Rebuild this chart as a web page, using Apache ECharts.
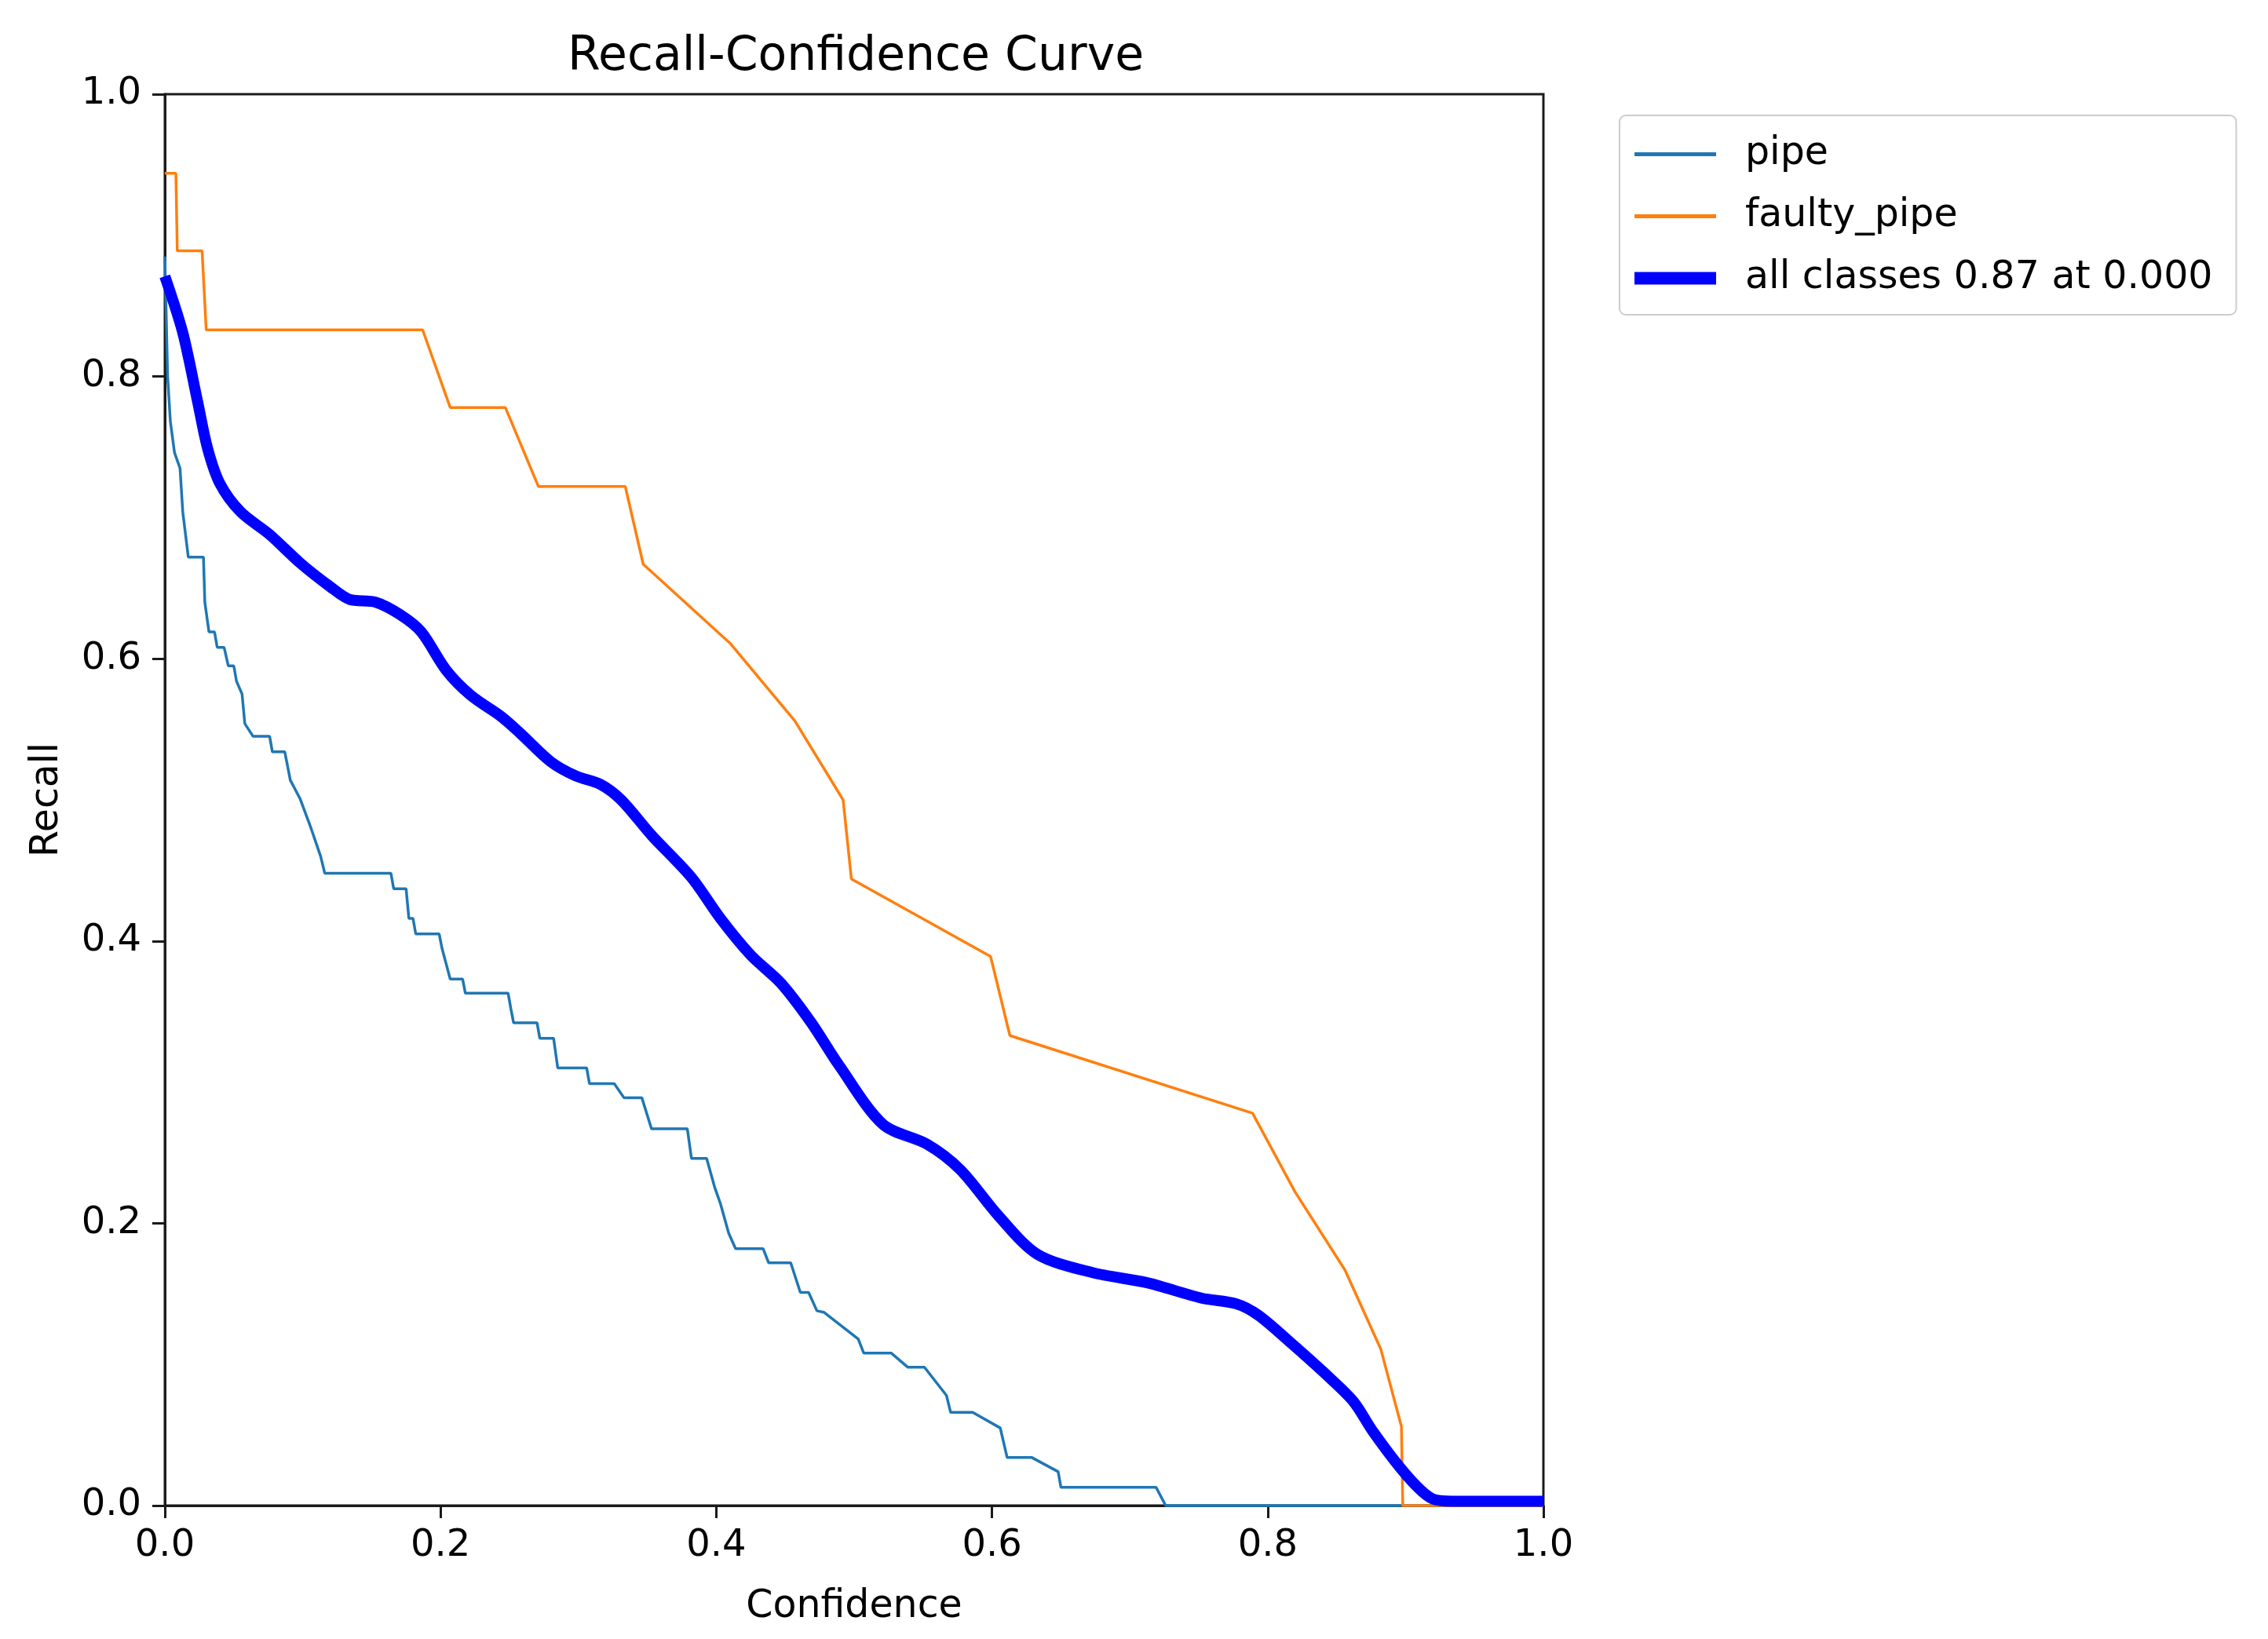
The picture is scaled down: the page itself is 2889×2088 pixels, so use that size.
<!DOCTYPE html>
<html>
<head>
<meta charset="utf-8">
<script src="https://cdn.jsdelivr.net/npm/echarts@6/dist/echarts.min.js"></script>
<style>
html,body{margin:0;padding:0;background:#fff;}
#chart{width:2889px;height:2088px;}
</style>
</head>
<body>
<div id="chart"></div>
<script>
// ---- data (confidence, recall) ----
const seriesNames = ['pipe', 'faulty_pipe', 'all classes 0.87 at 0.000'];
const axisTicks = [0.0, 0.2, 0.4, 0.6, 0.8, 1.0];

const pipeData = [
  [0.000,0.885],[0.002,0.800],[0.004,0.768],[0.007,0.746],[0.011,0.735],[0.013,0.704],
  [0.017,0.672],[0.028,0.672],[0.029,0.640],[0.032,0.619],[0.036,0.619],[0.038,0.608],
  [0.043,0.608],[0.046,0.595],[0.050,0.595],[0.052,0.584],[0.056,0.575],[0.058,0.554],
  [0.064,0.545],[0.076,0.545],[0.078,0.534],[0.087,0.534],[0.091,0.514],[0.098,0.501],
  [0.106,0.480],[0.113,0.460],[0.116,0.448],[0.164,0.448],[0.166,0.437],[0.175,0.437],
  [0.177,0.416],[0.180,0.416],[0.182,0.405],[0.199,0.405],[0.201,0.395],[0.207,0.373],
  [0.216,0.373],[0.218,0.363],[0.249,0.363],[0.251,0.352],[0.253,0.342],[0.270,0.342],
  [0.272,0.331],[0.282,0.331],[0.285,0.310],[0.306,0.310],[0.308,0.299],[0.326,0.299],
  [0.333,0.289],[0.346,0.289],[0.353,0.267],[0.379,0.267],[0.382,0.246],[0.393,0.246],
  [0.399,0.225],[0.403,0.214],[0.409,0.193],[0.414,0.182],[0.434,0.182],[0.438,0.172],
  [0.454,0.172],[0.461,0.151],[0.467,0.151],[0.473,0.138],[0.478,0.137],[0.503,0.118],
  [0.507,0.108],[0.527,0.108],[0.539,0.098],[0.551,0.098],[0.567,0.078],[0.570,0.066],
  [0.586,0.066],[0.606,0.055],[0.611,0.034],[0.629,0.034],[0.648,0.024],[0.650,0.013],
  [0.719,0.013],[0.726,0.000],[1.000,0.000]
];

const faultyData = [
  [0.000,0.944],[0.008,0.944],[0.009,0.889],[0.027,0.889],[0.030,0.833],[0.187,0.833],
  [0.207,0.778],[0.247,0.778],[0.271,0.722],[0.334,0.722],[0.347,0.667],[0.410,0.611],
  [0.457,0.556],[0.492,0.500],[0.498,0.444],[0.599,0.389],[0.613,0.333],[0.789,0.278],
  [0.820,0.222],[0.856,0.167],[0.882,0.111],[0.897,0.056],[0.898,0.000],[1.000,0.000]
];

const allData = [
  [0.000,0.871],[0.013,0.831],[0.024,0.781],[0.031,0.749],[0.040,0.724],[0.055,0.704],
  [0.076,0.688],[0.098,0.668],[0.120,0.651],[0.134,0.642],[0.153,0.640],[0.171,0.631],
  [0.186,0.619],[0.204,0.592],[0.222,0.574],[0.244,0.559],[0.258,0.547],[0.280,0.527],
  [0.298,0.517],[0.316,0.511],[0.331,0.500],[0.353,0.475],[0.382,0.445],[0.403,0.416],
  [0.425,0.390],[0.447,0.370],[0.469,0.342],[0.489,0.312],[0.521,0.270],[0.553,0.256],
  [0.577,0.238],[0.605,0.205],[0.633,0.178],[0.673,0.165],[0.712,0.158],[0.752,0.147],
  [0.777,0.143],[0.793,0.135],[0.816,0.116],[0.840,0.095],[0.862,0.074],[0.876,0.053],
  [0.896,0.027],[0.912,0.010],[0.922,0.004],[0.940,0.003],[1.000,0.003]
];

const colors = ['#1f77b4', '#ff7f0e', '#0000ff'];
const lineWidths = [3.5, 3.5, 14];

const FONT = 'DejaVu Sans';
const chart = echarts.init(document.getElementById('chart'), null, {renderer: 'canvas'});

function axisCommon(name) {
  return {
    type: 'value',
    min: 0, max: 1, interval: 0.2,
    name: name,
    nameLocation: 'middle',
    nameTextStyle: {fontFamily: FONT, fontSize: 49, color: '#000'},
    axisLine: {show: true, lineStyle: {color: '#1a1a1a', width: 3}},
    axisTick: {show: true, inside: false, length: 16, lineStyle: {color: '#1a1a1a', width: 3}},
    axisLabel: {fontFamily: FONT, fontSize: 48, color: '#000', formatter: v => v.toFixed(1)},
    splitLine: {show: false}
  };
}

const xAxis = Object.assign(axisCommon('Confidence'), {nameGap: 105});
xAxis.axisLabel.margin = 28;
const yAxis = Object.assign(axisCommon('Recall'), {nameGap: 125, nameRotate: 90});
yAxis.axisLabel.margin = 30;

chart.setOption({
  animation: false,
  backgroundColor: '#ffffff',
  title: {
    text: 'Recall-Confidence Curve',
    left: 718, top: 38,
    textStyle: {fontFamily: FONT, fontSize: 60, fontWeight: 'normal', color: '#000'}
  },
  grid: {
    left: 210, top: 120, width: 1756, height: 1798,
    show: true, borderColor: '#1a1a1a', borderWidth: 3, backgroundColor: 'transparent'
  },
  legend: {
    orient: 'vertical',
    left: 2063, top: 147,
    padding: [25, 30, 22, 11],
    itemWidth: 104, itemHeight: 30, itemGap: 30,
    backgroundColor: '#ffffff',
    borderColor: '#cccccc', borderWidth: 2, borderRadius: 8,
    itemStyle: {opacity: 0, color: 'rgba(0,0,0,0)', borderWidth: 0},
    textStyle: {fontFamily: FONT, fontSize: 49, color: '#000', padding: [0, 0, 0, 32]},
    data: seriesNames.map((n, i) => ({
      name: n,
      itemStyle: {opacity: 0, color: 'rgba(0,0,0,0)', borderWidth: 0},
      lineStyle: {color: colors[i], width: i === 2 ? 16 : 5, opacity: 1}
    }))
  },
  xAxis: xAxis,
  yAxis: yAxis,
  series: [
    {name: seriesNames[0], type: 'line', data: pipeData, showSymbol: false, symbol: 'none',
     lineStyle: {color: colors[0], width: lineWidths[0]}, itemStyle: {color: colors[0]}, clip: false},
    {name: seriesNames[1], type: 'line', data: faultyData, showSymbol: false, symbol: 'none',
     lineStyle: {color: colors[1], width: lineWidths[1]}, itemStyle: {color: colors[1]}, clip: false},
    {name: seriesNames[2], type: 'line', data: allData, showSymbol: false, symbol: 'none', smooth: 0.3,
     lineStyle: {color: colors[2], width: lineWidths[2]}, itemStyle: {color: colors[2]}, clip: false}
  ]
});
</script>
</body>
</html>
